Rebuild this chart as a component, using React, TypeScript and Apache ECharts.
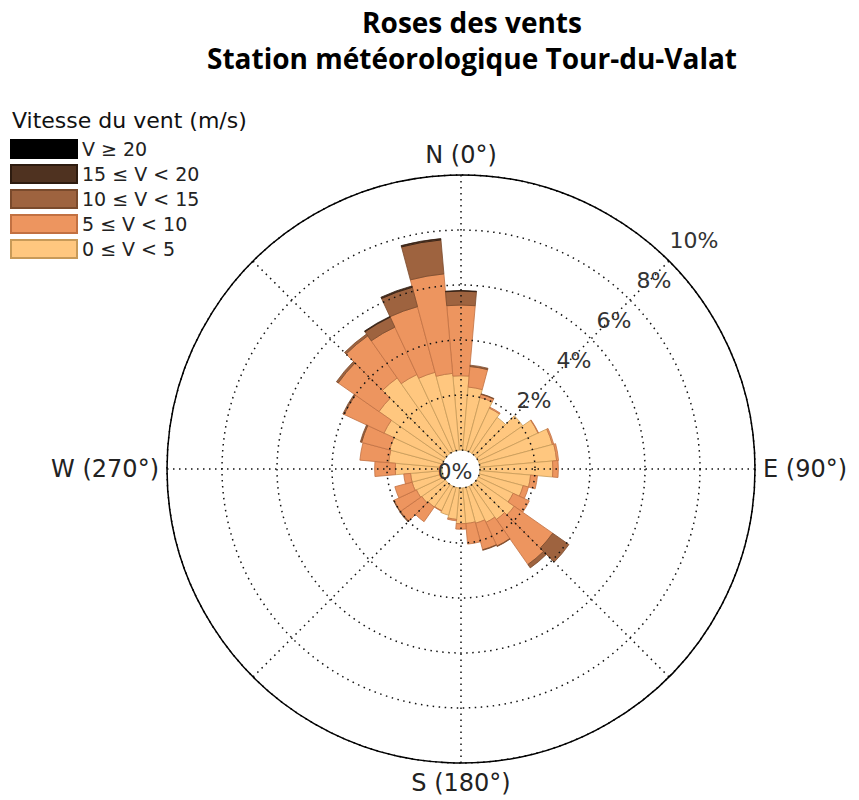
import React, { useEffect, useRef } from 'react';
import * as echarts from 'echarts';

// Wind directions (degrees, clockwise from North), one 10° sector each
const directions = ['0', '10', '20', '30', '40', '50', '60', '70', '80', '90', '100', '110',
  '120', '130', '140', '150', '160', '170', '180', '190', '200', '210', '220', '230',
  '240', '250', '260', '270', '280', '290', '300', '310', '320', '330', '340', '350'];

// Frequency (%) per direction for each wind speed class
const speed0to5 = [2.7, 2.3, 2.0, 1.75, 1.6, 2.05, 2.4, 2.75, 2.8, 2.65, 1.85, 1.65,
  1.4, 1.67, 1.55, 1.45, 1.35, 1.3, 1.3, 1.15, 1.05, 0.98, 1.0, 1.05,
  1.1, 1.15, 1.15, 1.7, 1.95, 2.0, 2.4, 2.95, 3.35, 3.1, 2.95, 2.8];
const speed5to10 = [2.57, 0.75, 0.12, 0.04, 0, 0, 0.02, 0.05, 0.07, 0.2, 0.25, 0.2,
  0.65, 1.71, 2.0, 0.95, 1.0, 0.75, 0.2, 0.05, 0, 0.02, 0.65, 0.95,
  0.9, 0.65, 0.25, 0.75, 1.05, 1.05, 1.6, 1.81, 1.87, 1.9, 2.47, 3.63];
const speed10to15 = [0.51, 0.05, 0.02, 0, 0, 0, 0, 0, 0, 0, 0, 0,
  0, 0.72, 0.15, 0.02, 0.02, 0, 0, 0, 0, 0, 0, 0.03,
  0.02, 0, 0, 0, 0, 0.05, 0.05, 0.08, 0.08, 0.4, 0.73, 1.24];
const speed15to20 = [0.02, 0, 0, 0, 0, 0, 0, 0, 0, 0, 0, 0,
  0, 0, 0, 0, 0, 0, 0, 0, 0, 0, 0, 0,
  0, 0, 0, 0, 0, 0, 0, 0, 0, 0.03, 0.05, 0.05];
const speed20plus = [0, 0, 0, 0, 0, 0, 0, 0, 0, 0, 0, 0,
  0, 0, 0, 0, 0, 0, 0, 0, 0, 0, 0, 0,
  0, 0, 0, 0, 0, 0, 0, 0, 0, 0, 0, 0];

const speedBins = ['0 ≤ V < 5', '5 ≤ V < 10', '10 ≤ V < 15', '15 ≤ V < 20', 'V ≥ 20'];
const binValues = [speed0to5, speed5to10, speed10to15, speed15to20, speed20plus];

// Axis ticks / labels
const compassTicks = [0, 90, 180, 270];
const compassLabels = ['N (0°)', 'E (90°)', 'S (180°)', 'W (270°)'];
const radialTicks = [0, 2, 4, 6, 8, 10];

const titleLines = ['Roses des vents', 'Station météorologique Tour-du-Valat'];
const legendTitle = 'Vitesse du vent (m/s)';

// Styles
const binColors = ['#FFC77F', '#ED955F', '#9E633F', '#4F3220', '#000000'];
const binBorders = ['#C89A58', '#C27142', '#7A4A2C', '#2E1C10', '#000000'];

export default function App() {
  const ref = useRef<HTMLDivElement>(null);
  useEffect(() => {
    const chart = echarts.init(ref.current!, null, { renderer: 'svg' });
    const center = [461, 469];
    const font = 'DejaVu Sans';
    const dotted = { color: '#111', width: 1.5, type: [1.5, 4.5] };
    const rMax = radialTicks[radialTicks.length - 1];
    const option: any = {
      animation: false,
      polar: [
        { center, radius: [19, 294] },
        { center, radius: [19, 294] },
        { center, radius: [0, 294] },
        { center: [462, 472], radius: [45, 328] },
      ],
      angleAxis: [
        { polarIndex: 0, type: 'category', data: directions, startAngle: 95, clockwise: true, boundaryGap: true, show: false },
        {
          polarIndex: 1, type: 'value', min: 0, max: 360, interval: 45, startAngle: 90, clockwise: true,
          axisLine: { show: false }, axisTick: { show: false }, axisLabel: { show: false },
          splitLine: { show: true, lineStyle: dotted }, z: 10,
        },
        {
          polarIndex: 2, type: 'value', min: 0, max: 360, interval: 90, startAngle: 90, clockwise: true,
          axisLine: { show: true, lineStyle: { color: '#000', width: 1.5 } },
          axisTick: { show: false }, splitLine: { show: false },
          axisLabel: {
            margin: 8, fontSize: 24, fontFamily: font, color: '#222',
            formatter: (v: number) => {
              const i = compassTicks.indexOf(v);
              return i >= 0 ? compassLabels[i] : '';
            },
          },
          z: 10,
        },
        { polarIndex: 3, type: 'value', min: 0, max: 360, startAngle: 45, show: false },
      ],
      radiusAxis: [
        { polarIndex: 0, type: 'value', min: 0, max: rMax, show: false },
        {
          polarIndex: 1, type: 'value', min: 0, max: rMax, interval: 2,
          axisLine: { show: false }, axisTick: { show: false }, axisLabel: { show: false },
          splitLine: { show: true, lineStyle: dotted }, z: 10,
        },
        { polarIndex: 2, type: 'value', min: 0, max: rMax, show: false },
        {
          polarIndex: 3, type: 'value', min: 0, max: rMax, interval: 2,
          axisLine: { show: false }, axisTick: { show: false }, splitLine: { show: false },
          axisLabel: {
            margin: 0, align: 'center', verticalAlign: 'middle', showMinLabel: false,
            fontSize: 22, fontFamily: font, color: '#333', formatter: '{value}%',
          },
          z: 10,
        },
      ],
      legend: {
        data: [...speedBins].reverse(),
        orient: 'vertical', left: 5, top: 134,
        itemWidth: 66, itemHeight: 18, itemGap: 5,
        icon: 'rect', selectedMode: false,
        textStyle: { fontSize: 19, lineHeight: 18, fontFamily: font, color: '#222' },
      },
      series: speedBins.map((name, k) => ({
        name, type: 'bar', coordinateSystem: 'polar', polarIndex: 0, stack: 'wind',
        data: binValues[k].map((v) => (v > 0 ? v : null)), barCategoryGap: '0%',
        itemStyle: { color: binColors[k], borderColor: binBorders[k], borderWidth: 0.8 },
        emphasis: { disabled: true }, z: 2,
      })),
      graphic: [
        { type: 'text', x: 472, y: 22, style: { text: titleLines[0], fontSize: 28, fontWeight: 'bold', fontFamily: 'Open Sans', fill: '#000', align: 'center', verticalAlign: 'middle' } },
        { type: 'text', x: 472, y: 58, style: { text: titleLines[1], fontSize: 28, fontWeight: 'bold', fontFamily: 'Open Sans', fill: '#000', align: 'center', verticalAlign: 'middle' } },
        { type: 'text', x: 12, y: 120, style: { text: legendTitle, fontSize: 22, fontFamily: font, fill: '#111', align: 'left', verticalAlign: 'middle' } },
        { type: 'text', x: 455, y: 471, z: 100, style: { text: radialTicks[0] + '%', fontSize: 22, fontFamily: font, fill: '#333', align: 'center', verticalAlign: 'middle' } },
      ],
    };
    chart.setOption(option);
    return () => chart.dispose();
  }, []);
  return <div ref={ref} style={{ position: 'absolute', left: 0, top: 0, width: 859, height: 800 }} />;
}
